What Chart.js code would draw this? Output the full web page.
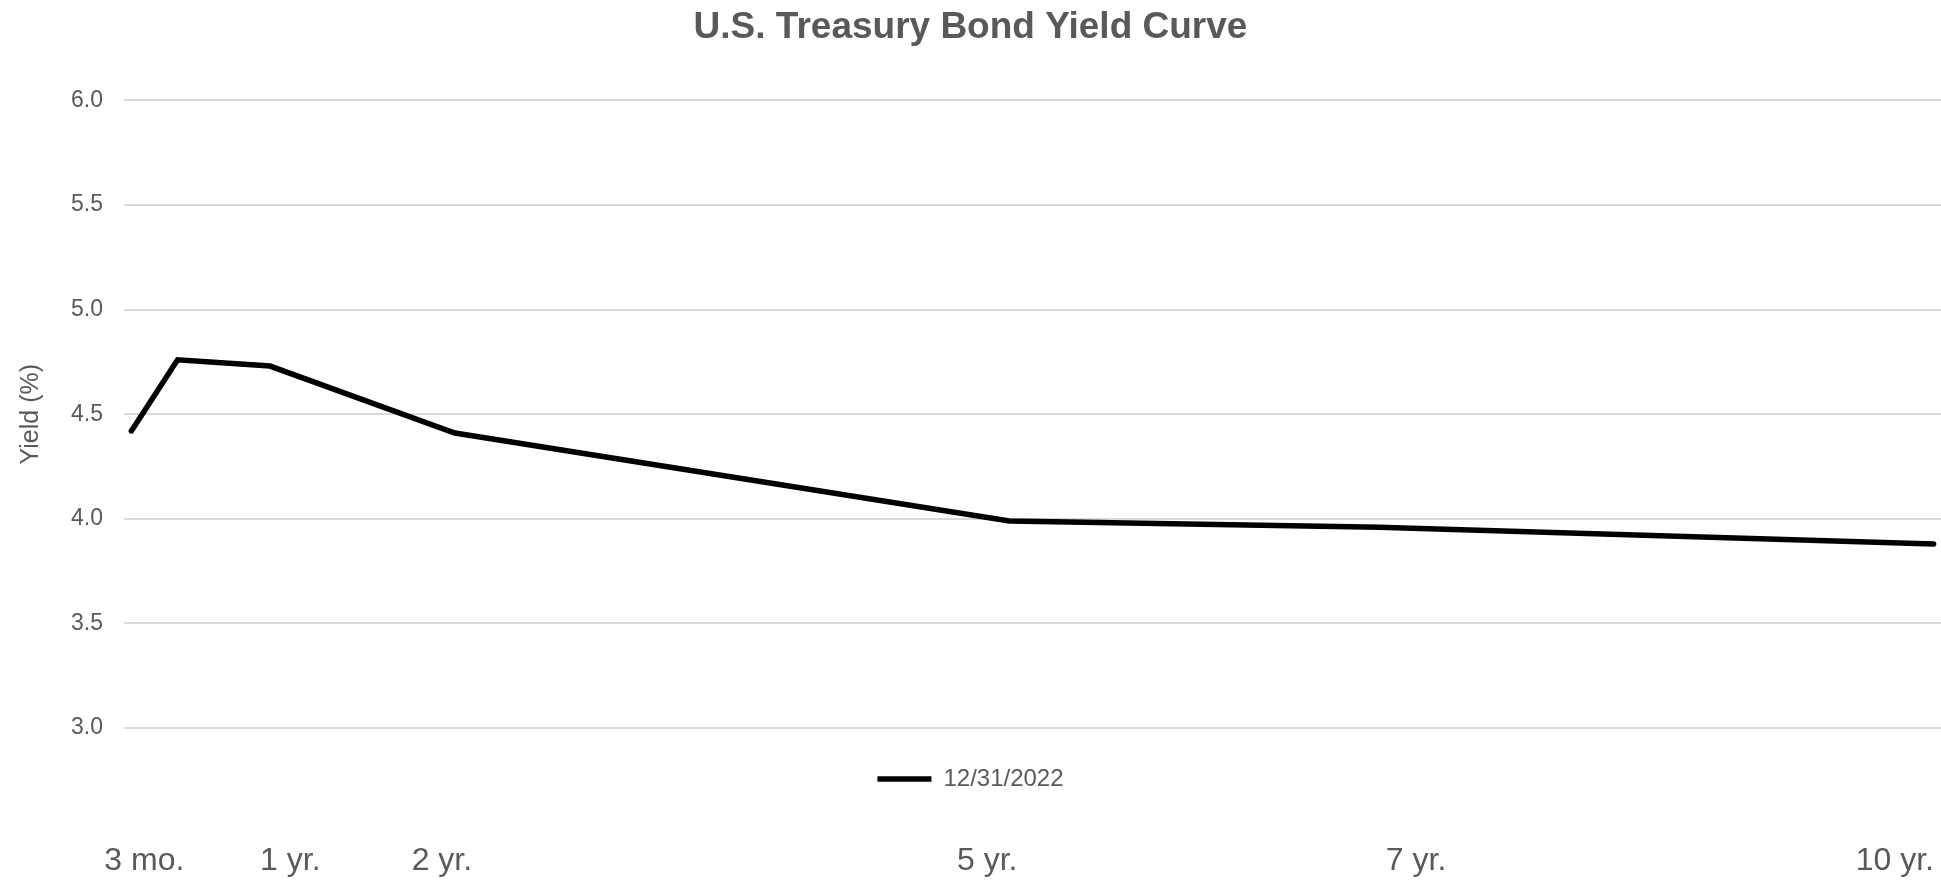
<!DOCTYPE html>
<html lang="en">
<head>
  <meta charset="UTF-8">
  <title>U.S. Treasury Bond Yield Curve</title>
  <script src="https://cdn.jsdelivr.net/npm/chart.js"></script>
  <style>
    html, body { margin: 0; padding: 0; background: #fff; }
    #wrap { width: 1941px; height: 880px; position: relative; }
  </style>
</head>
<body>
  <div id="wrap"><canvas id="curve"></canvas></div>

  <script>
    // maturities in years, yields in %
    const maturities = [0.25, 0.5, 1, 2, 5, 7, 10];
    const yields = [4.42, 4.76, 4.73, 4.41, 3.99, 3.96, 3.88];
    const seriesLabel = '12/31/2022';

    // x-axis labels, and where they sit on the maturity axis (years) in the source chart
    const tickLabels = ['3 mo.', '1 yr.', '2 yr.', '5 yr.', '7 yr.', '10 yr.'];
    const tickPositions = [0.32, 1.11, 1.93, 4.88, 7.2, 9.79];

    const textGray = '#595959';
    const fontFamily = "'Liberation Sans', Arial, sans-serif";

    const points = maturities.map((m, i) => ({ x: m, y: yields[i] }));

    // the x axis box is kept thin so the legend lands right under the plot;
    // after layout let the axis reach the canvas bottom so its labels aren't clipped
    const labelRoom = {
      id: 'labelRoom',
      afterLayout(chart) {
        const x = chart.scales.x;
        x.bottom = chart.height;
        x.height = x.bottom - x.top;
      }
    };

    new Chart(document.getElementById('curve'), {
      type: 'line',
      data: {
        datasets: [{
          label: seriesLabel,
          data: points,
          borderColor: '#000000',
          backgroundColor: '#000000',
          borderWidth: 5.5,
          borderCapStyle: 'round',
          borderJoinStyle: 'miter',
          pointRadius: 0,
          tension: 0,
          fill: false
        }]
      },
      plugins: [labelRoom],
      options: {
        responsive: true,
        maintainAspectRatio: false,
        animation: false,
        layout: { padding: { top: 0, left: 0, right: 0, bottom: 79 } },
        plugins: {
          title: {
            display: true,
            text: 'U.S. Treasury Bond Yield Curve',
            color: textGray,
            font: { family: fontFamily, size: 37, weight: 'bold' },
            padding: { top: 6, bottom: 50 }
          },
          legend: {
            display: true,
            position: 'bottom',
            labels: {
              usePointStyle: true,
              pointStyle: 'line',
              pointStyleWidth: 54,
              color: textGray,
              font: { family: fontFamily, size: 24 },
              padding: 10
            }
          },
          tooltip: { enabled: false }
        },
        scales: {
          x: {
            type: 'linear',
            min: 0.21,
            max: 10.04,
            afterBuildTicks: (scale) => {
              scale.ticks = tickPositions.map(v => ({ value: v }));
            },
            afterFit: (scale) => {
              scale.height = 29;
              scale.paddingLeft = 0;
              scale.paddingRight = 0;
            },
            grid: { display: false, drawTicks: false },
            border: { display: false },
            ticks: {
              autoSkip: false,
              maxRotation: 0,
              padding: 114,
              color: textGray,
              font: { family: fontFamily, size: 32 },
              callback: (value) => {
                const idx = tickPositions.indexOf(value);
                return idx >= 0 ? tickLabels[idx] : '';
              }
            }
          },
          y: {
            min: 3,
            max: 6,
            grid: { color: '#d9d9d9', lineWidth: 2, drawTicks: false },
            border: { display: false },
            ticks: {
              stepSize: 0.5,
              padding: 21,
              color: textGray,
              font: { family: fontFamily, size: 23 },
              callback: (value) => Number(value).toFixed(1)
            },
            title: {
              display: true,
              text: 'Yield (%)',
              color: textGray,
              font: { family: fontFamily, size: 25 },
              padding: { top: 16, bottom: 4 }
            }
          }
        }
      }
    });
  </script>
</body>
</html>
